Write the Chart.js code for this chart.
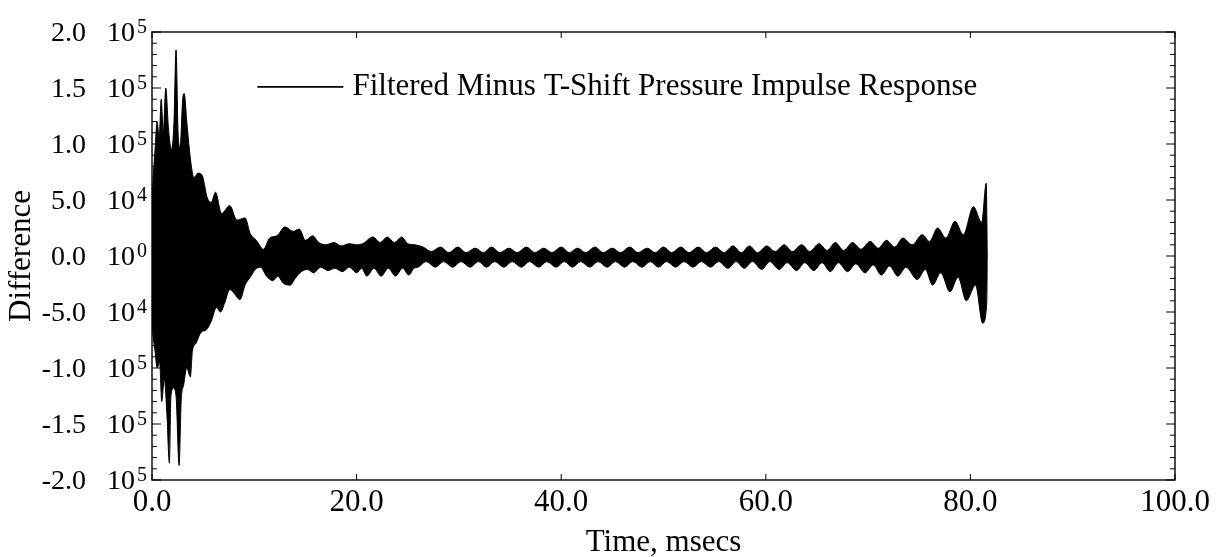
<!DOCTYPE html>
<html lang="en">
<head>
    <meta charset="UTF-8">
    <title>Filtered Minus T-Shift Pressure Impulse Response</title>
    <script src="https://cdn.jsdelivr.net/npm/chart.js"></script>
    <style>
        * {
            margin: 0;
            padding: 0;
            box-sizing: border-box;
        }
        body {
            background: #fff;
        }
        #wrap {
            width: 1223px;
            height: 557px;
            position: relative;
        }
    </style>
</head>
<body>
    <div id="wrap"><canvas id="myChart"></canvas></div>
    <script>
        const seriesLabel = 'Filtered Minus T-Shift Pressure Impulse Response';

        // [time (msecs), difference (x 10^3)]
        const upperEnvelope = [
            [0.0, 50], [0.15, 75], [0.3, 95], [0.5, 120], [0.7, 105], [0.9, 140], [1.1, 110],
            [1.35, 150], [1.6, 115], [1.9, 95], [2.15, 120], [2.35, 184], [2.55, 110], [2.75, 97],
            [3.0, 140], [3.15, 145], [3.4, 120], [3.6, 100], [3.85, 80], [4.1, 70], [4.5, 74],
            [4.9, 72], [5.4, 52], [5.8, 48], [6.2, 57], [6.8, 38], [7.6, 45], [8.3, 32], [9.1, 34],
            [9.6, 20], [10.2, 14], [10.9, 6], [11.5, 16], [12.2, 18], [13.0, 26], [13.8, 22],
            [14.4, 24], [15.0, 14], [15.7, 18], [16.3, 12], [17.0, 10], [17.8, 12], [18.5, 9],
            [19.3, 11], [20.0, 10], [20.6, 11], [21.6, 17], [22.3, 12], [23.0, 17], [23.7, 12],
            [24.4, 17], [25.0, 11], [25.7, 10],
            [26.5, 8], [27.3, 4], [28.2, 8], [29.0, 3], [29.9, 8], [30.7, 3], [31.6, 7], [32.4, 3],
            [33.2, 8], [34.0, 3], [34.9, 7], [35.7, 3], [36.6, 8], [37.4, 3], [38.3, 7], [39.1, 3],
            [40.0, 8], [40.8, 3], [41.6, 7], [42.4, 3], [43.3, 8], [44.1, 3], [45.0, 7], [45.8, 3],
            [46.7, 8], [47.5, 3], [48.4, 7], [49.2, 3], [50.0, 8], [50.8, 3], [51.7, 8], [52.5, 3],
            [53.4, 8], [54.2, 3], [55.1, 8], [55.9, 3], [56.8, 9], [57.6, 3], [58.4, 9], [59.2, 3],
            [60.1, 9], [60.9, 4], [61.8, 10], [62.6, 4], [63.5, 10], [64.3, 4], [65.2, 11], [66.0, 5],
            [66.8, 12], [67.6, 5], [68.5, 12], [69.3, 6], [70.2, 13], [71.0, 7], [71.8, 14], [72.6, 8],
            [73.4, 16], [74.3, 10], [75.3, 19], [76.0, 13], [76.8, 25], [77.6, 16], [78.5, 31],
            [79.3, 19], [80.3, 44], [81.1, 30], [81.55, 65], [81.65, 0]
        ];
        const lowerEnvelope = [
            [0.0, -60], [0.15, -75], [0.3, -85], [0.5, -100], [0.75, -95], [0.95, -130], [1.2, -110],
            [1.45, -140], [1.7, -185], [1.85, -125], [2.1, -118], [2.35, -125], [2.65, -187],
            [2.85, -130], [3.1, -115], [3.4, -100], [3.75, -108], [3.95, -85], [4.3, -78], [4.8, -68],
            [5.3, -66], [5.8, -58], [6.3, -46], [6.7, -50], [7.1, -42], [7.6, -30], [8.0, -33],
            [8.6, -39], [9.1, -26], [9.6, -19], [10.1, -12], [10.6, -10], [11.2, -18], [11.8, -22],
            [12.3, -18], [12.8, -24], [13.5, -26], [14.0, -20], [14.6, -14], [15.2, -12], [15.8, -15],
            [16.5, -10], [17.2, -13], [17.9, -11], [18.6, -14], [19.3, -10], [20.0, -15], [20.5, -11],
            [21.0, -18], [21.7, -11], [22.4, -18], [23.1, -11], [23.8, -18], [24.5, -11], [25.1, -17],
            [25.6, -11],
            [26.0, -10], [26.8, -5], [27.7, -10], [28.5, -5], [29.4, -10], [30.2, -5], [31.1, -10],
            [31.9, -5], [32.7, -10], [33.5, -5], [34.4, -10], [35.2, -5], [36.1, -10], [36.9, -5],
            [37.8, -10], [38.6, -5], [39.5, -10], [40.3, -5], [41.1, -10], [41.9, -5], [42.8, -10],
            [43.6, -5], [44.5, -10], [45.3, -5], [46.2, -10], [47.0, -5], [47.9, -10], [48.7, -5],
            [49.5, -10], [50.3, -5], [51.2, -10], [52.0, -5], [52.9, -10], [53.7, -5], [54.6, -10],
            [55.4, -5], [56.3, -11], [57.1, -5], [57.9, -11], [58.7, -5], [59.6, -12], [60.4, -5],
            [61.3, -12], [62.1, -6], [63.0, -13], [63.8, -6], [64.7, -13], [65.5, -6], [66.3, -14],
            [67.1, -6], [68.0, -14], [68.8, -7], [69.7, -15], [70.5, -8], [71.3, -17], [72.1, -9],
            [72.9, -18], [73.7, -10], [74.8, -21], [75.6, -12], [76.3, -26], [77.1, -15], [78.0, -32],
            [78.8, -19], [79.6, -40], [80.5, -26], [81.2, -60], [81.6, -42], [81.65, 0]
        ];

        const xTickValues = [0, 20, 40, 60, 80, 100];
        const xTickLabels = ['0.0', '20.0', '40.0', '60.0', '80.0', '100.0'];
        const yTickValues = [-200, -150, -100, -50, 0, 50, 100, 150, 200];
        const yTickMantissa = ['-2.0', '-1.5', '-1.0', '-5.0', '0.0', '5.0', '1.0', '1.5', '2.0'];
        const yTickExponent = ['5', '5', '5', '4', '0', '4', '5', '5', '5'];

        // legend sample placement, in data units
        const legendAt = { x0: 10.3, x1: 18.7, textX: 19.6, y: 151 };

        const serif = "'Liberation Serif', 'Times New Roman', serif";

        // y labels with a real superscript exponent ("2.0  10^5")
        const sciLabels = {
            id: 'sciLabels',
            afterDraw(chart) {
                const { ctx, chartArea: a, scales: { y } } = chart;
                const right = a.left - 5;
                ctx.save();
                ctx.fillStyle = '#000';
                ctx.textAlign = 'right';
                ctx.textBaseline = 'alphabetic';
                yTickValues.forEach((v, i) => {
                    const py = y.getPixelForValue(v);
                    ctx.font = '20px ' + serif;
                    const ew = ctx.measureText(yTickExponent[i]).width;
                    ctx.fillText(yTickExponent[i], right, py + 0.5);
                    ctx.font = '28px ' + serif;
                    const bx = right - ew - 2;
                    ctx.fillText('10', bx, py + 8.5);
                    const tw = ctx.measureText('10').width;
                    ctx.fillText(yTickMantissa[i], bx - tw - 21, py + 8.5);
                });
                ctx.restore();
            }
        };

        // box frame with inward ticks + the legend inside the plot
        const frameTicks = {
            id: 'frameTicks',
            afterDatasetsDraw(chart) {
                const { ctx, chartArea: a, scales: { x, y } } = chart;
                ctx.save();
                ctx.strokeStyle = '#000';
                ctx.lineWidth = 1.4;
                ctx.strokeRect(a.left, a.top, a.right - a.left, a.bottom - a.top);

                ctx.lineWidth = 1;
                ctx.beginPath();
                for (let v = -200; v <= 200; v += 10) {
                    const py = y.getPixelForValue(v);
                    const len = v % 50 === 0 ? 9 : 5;
                    ctx.moveTo(a.left, py);
                    ctx.lineTo(a.left + len, py);
                    ctx.moveTo(a.right, py);
                    ctx.lineTo(a.right - len, py);
                }
                xTickValues.forEach(v => {
                    const px = x.getPixelForValue(v);
                    ctx.moveTo(px, a.top);
                    ctx.lineTo(px, a.top + 6);
                    ctx.moveTo(px, a.bottom);
                    ctx.lineTo(px, a.bottom - 6);
                });
                ctx.stroke();

                const ly = y.getPixelForValue(legendAt.y);
                ctx.lineWidth = 1.6;
                ctx.beginPath();
                ctx.moveTo(x.getPixelForValue(legendAt.x0), ly);
                ctx.lineTo(x.getPixelForValue(legendAt.x1), ly);
                ctx.stroke();
                ctx.fillStyle = '#000';
                ctx.font = '31px ' + serif;
                ctx.textBaseline = 'middle';
                ctx.textAlign = 'left';
                ctx.fillText(chart.data.datasets[0].label, x.getPixelForValue(legendAt.textX), ly);
                ctx.restore();
            }
        };

        const toPoints = env => env.map(([t, v]) => ({ x: t, y: v }));

        const ctx = document.getElementById('myChart').getContext('2d');
        new Chart(ctx, {
            type: 'line',
            data: {
                datasets: [
                    {
                        label: seriesLabel,
                        data: toPoints(upperEnvelope),
                        borderColor: '#000',
                        backgroundColor: '#000',
                        borderWidth: 1,
                        pointRadius: 0,
                        cubicInterpolationMode: 'monotone',
                        fill: 'origin'
                    },
                    {
                        label: 'lower',
                        data: toPoints(lowerEnvelope),
                        borderColor: '#000',
                        backgroundColor: '#000',
                        borderWidth: 1,
                        pointRadius: 0,
                        cubicInterpolationMode: 'monotone',
                        fill: 'origin'
                    }
                ]
            },
            options: {
                responsive: true,
                maintainAspectRatio: false,
                animation: false,
                layout: {
                    padding: { top: 32, right: 48, bottom: 0, left: 0 }
                },
                plugins: {
                    legend: { display: false },
                    tooltip: { enabled: false }
                },
                scales: {
                    x: {
                        type: 'linear',
                        min: 0,
                        max: 100,
                        afterBuildTicks: s => { s.ticks = xTickValues.map(v => ({ value: v })); },
                        afterFit: s => { s.height = 77; },
                        grid: { display: false, drawTicks: false },
                        border: { display: false },
                        ticks: {
                            color: '#000',
                            padding: 4,
                            maxRotation: 0,
                            autoSkip: false,
                            font: { family: serif, size: 31 },
                            callback: v => xTickLabels[xTickValues.indexOf(v)]
                        },
                        title: {
                            display: true,
                            text: 'Time, msecs',
                            color: '#000',
                            font: { family: serif, size: 31, lineHeight: 1 },
                            padding: { top: 0, bottom: -1 }
                        }
                    },
                    y: {
                        min: -200,
                        max: 200,
                        afterBuildTicks: s => { s.ticks = yTickValues.map(v => ({ value: v })); },
                        afterFit: s => { s.width = 152; },
                        grid: { display: false, drawTicks: false },
                        border: { display: false },
                        ticks: { display: false },
                        title: {
                            display: true,
                            text: 'Difference',
                            color: '#000',
                            font: { family: serif, size: 31, lineHeight: 1 },
                            padding: { top: 6, bottom: 0 }
                        }
                    }
                }
            },
            plugins: [frameTicks, sciLabels]
        });
    </script>
</body>
</html>
